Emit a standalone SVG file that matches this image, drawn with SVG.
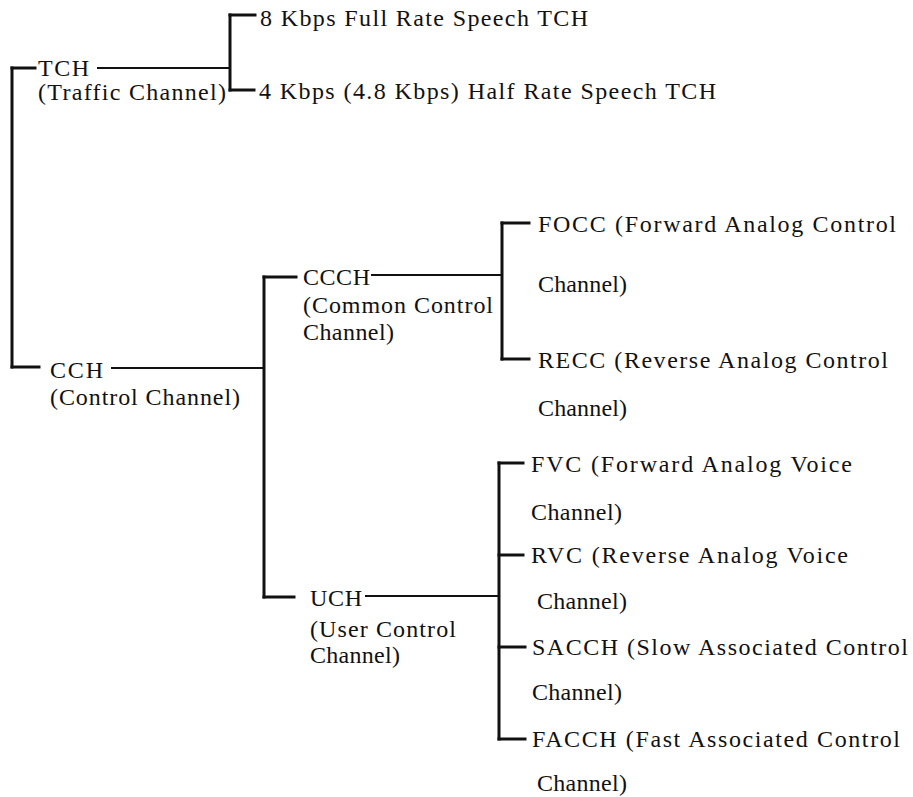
<svg xmlns="http://www.w3.org/2000/svg" width="913" height="797" viewBox="0 0 913 797">
<style>
text{font-family:"Liberation Serif","Times New Roman",serif;font-size:24px;fill:#111}
.c line{stroke:#111;stroke-width:3;stroke-linecap:square}
.c .t{stroke-width:2}
</style>
<rect width="913" height="797" fill="#fff"/>
<g class="c" id="connectors">
<line x1="12" y1="68" x2="12" y2="367"/>
<line x1="12" y1="68" x2="35" y2="68"/>
<line x1="12" y1="367" x2="39" y2="367"/>
<line class="t" x1="98" y1="68" x2="230" y2="68"/>
<line x1="230" y1="15" x2="230" y2="90"/>
<line x1="230" y1="15" x2="255" y2="15"/>
<line x1="230" y1="90" x2="254" y2="90"/>
<line class="t" x1="112" y1="368" x2="264" y2="368"/>
<line x1="264" y1="277" x2="264" y2="597"/>
<line x1="264" y1="277" x2="296" y2="277"/>
<line x1="264" y1="597" x2="294" y2="597"/>
<line class="t" x1="372" y1="275" x2="502" y2="275"/>
<line x1="502" y1="223" x2="502" y2="359"/>
<line x1="502" y1="223" x2="529" y2="223"/>
<line x1="502" y1="359" x2="529" y2="359"/>
<line class="t" x1="366" y1="596" x2="499" y2="596"/>
<line x1="499" y1="463" x2="499" y2="739"/>
<line x1="499" y1="463" x2="523" y2="463"/>
<line x1="499" y1="555" x2="523" y2="555"/>
<line x1="499" y1="647" x2="525" y2="647"/>
<line x1="499" y1="739" x2="525" y2="739"/>
</g>
<g id="tch"><text x="38" y="76" textLength="51" lengthAdjust="spacing">TCH</text><text x="38" y="100" textLength="188" lengthAdjust="spacing">(Traffic Channel)</text></g>
<g id="full"><text x="260" y="26" textLength="328" lengthAdjust="spacing">8 Kbps Full Rate Speech TCH</text></g>
<g id="half"><text x="259" y="99" textLength="457" lengthAdjust="spacing">4 Kbps (4.8 Kbps) Half Rate Speech TCH</text></g>
<g id="cch"><text x="50" y="378" textLength="53" lengthAdjust="spacing">CCH</text><text x="50" y="405" textLength="190" lengthAdjust="spacing">(Control Channel)</text></g>
<g id="ccch"><text x="303" y="285" textLength="67" lengthAdjust="spacing">CCCH</text><text x="303" y="313" textLength="190" lengthAdjust="spacing">(Common Control</text><text x="303" y="340" textLength="91" lengthAdjust="spacing">Channel)</text></g>
<g id="focc"><text x="538" y="232" textLength="358" lengthAdjust="spacing">FOCC (Forward Analog Control</text><text x="538" y="292" textLength="89" lengthAdjust="spacing">Channel)</text></g>
<g id="recc"><text x="538" y="368" textLength="350" lengthAdjust="spacing">RECC (Reverse Analog Control</text><text x="538" y="416" textLength="89" lengthAdjust="spacing">Channel)</text></g>
<g id="uch"><text x="310" y="606" textLength="52" lengthAdjust="spacing">UCH</text><text x="310" y="637" textLength="146" lengthAdjust="spacing">(User Control</text><text x="310" y="663" textLength="90" lengthAdjust="spacing">Channel)</text></g>
<g id="fvc"><text x="531" y="472" textLength="321" lengthAdjust="spacing">FVC (Forward Analog Voice</text><text x="531" y="520" textLength="91" lengthAdjust="spacing">Channel)</text></g>
<g id="rvc"><text x="531" y="563" textLength="317" lengthAdjust="spacing">RVC (Reverse Analog Voice</text><text x="537" y="609" textLength="90" lengthAdjust="spacing">Channel)</text></g>
<g id="sacch"><text x="532" y="655" textLength="376" lengthAdjust="spacing">SACCH (Slow Associated Control</text><text x="532" y="700" textLength="90" lengthAdjust="spacing">Channel)</text></g>
<g id="facch"><text x="532" y="747" textLength="368" lengthAdjust="spacing">FACCH (Fast Associated Control</text><text x="537" y="791" textLength="90" lengthAdjust="spacing">Channel)</text></g>
</svg>
